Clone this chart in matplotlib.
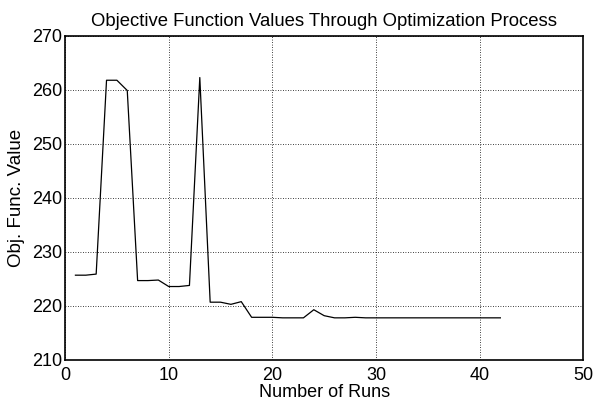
import matplotlib
matplotlib.use("Agg")
import matplotlib.pyplot as plt

runs = list(range(1, 43))
obj_values = [
    225.7, 225.7, 225.9, 261.8, 261.8, 259.9, 224.7, 224.7, 224.8, 223.6,
    223.6, 223.8, 262.3, 220.7, 220.7, 220.3, 220.8, 217.9, 217.9, 217.9,
    217.8, 217.8, 217.8, 219.3, 218.2, 217.8, 217.8, 217.9, 217.8, 217.8,
    217.8, 217.8, 217.8, 217.8, 217.8, 217.8, 217.8, 217.8, 217.8, 217.8,
    217.8, 217.8,
]
x_ticks = [0, 10, 20, 30, 40, 50]
y_ticks = [210, 220, 230, 240, 250, 260, 270]

plt.rcParams["font.family"] = ["Liberation Sans", "DejaVu Sans"]

fig = plt.figure(figsize=(5.97, 4.04), dpi=100)
ax = fig.add_axes([0.109, 0.109, 0.868, 0.802])

ax.plot(runs, obj_values, color="black", linewidth=0.9)

ax.set_xlim(0, 50)
ax.set_ylim(210, 270)
ax.set_xticks(x_ticks)
ax.set_yticks(y_ticks)
ax.grid(True, color="black", linestyle=(0, (1, 2)), linewidth=0.6)
ax.tick_params(direction="in", top=True, right=True, labelsize=13, length=0)
ax.tick_params(axis="x", pad=5)
ax.tick_params(axis="y", pad=2)
for s in ax.spines.values():
    s.set_linewidth(1.2)

ax.set_xlabel("Number of Runs", fontsize=13, labelpad=0)
ax.set_ylabel("Obj. Func. Value", fontsize=13.5, labelpad=5)
ax.set_title("Objective Function Values Through Optimization Process", fontsize=13.3, pad=7)

fig.savefig("out.png", dpi=100)
